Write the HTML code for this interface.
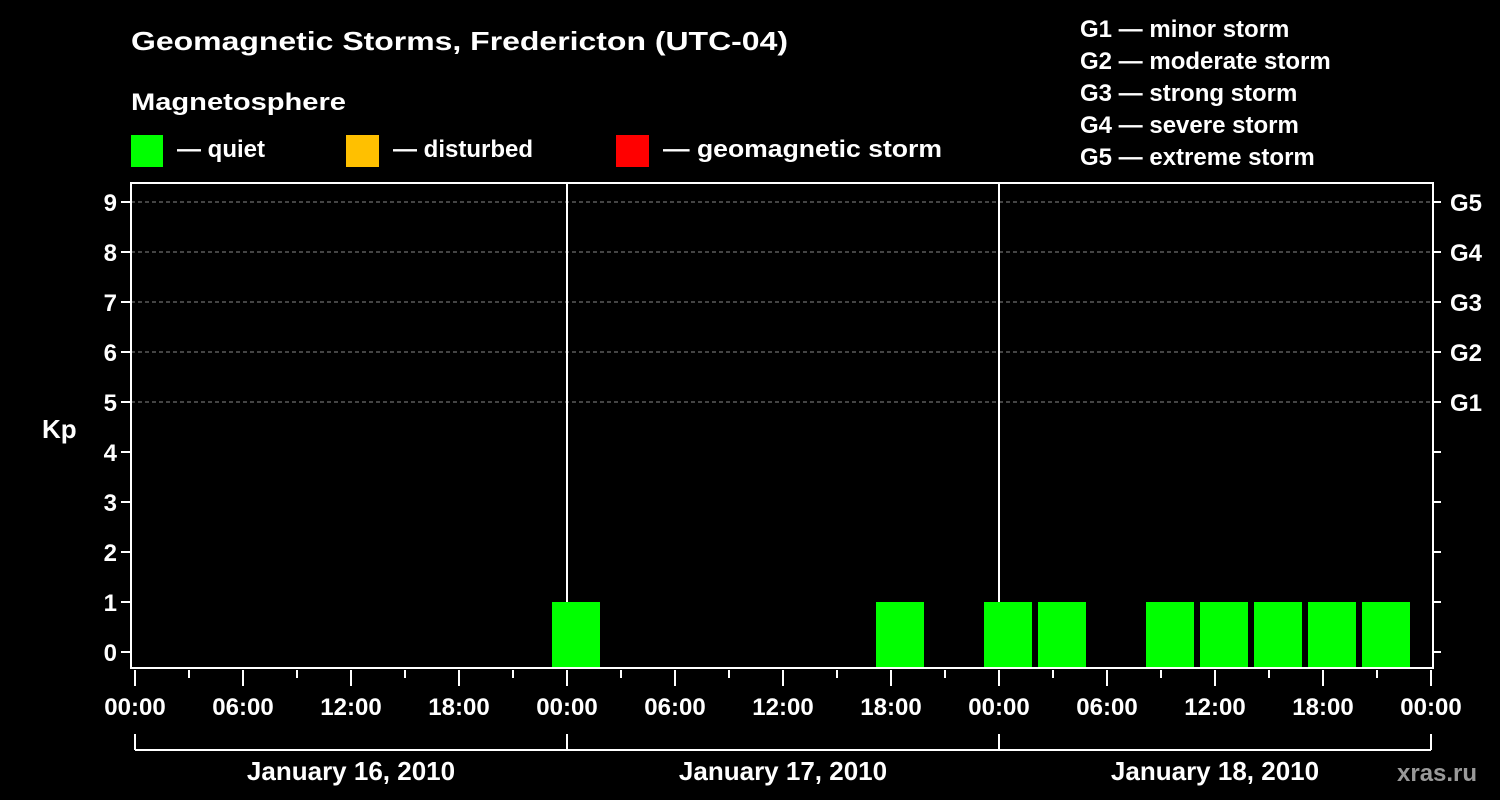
<!DOCTYPE html>
<html><head><meta charset="utf-8"><style>
html,body{margin:0;padding:0;background:#000;}
svg{display:block;font-family:"Liberation Sans",Arial,sans-serif;font-weight:bold;}
</style></head><body>
<svg id="chart" width="1500" height="800" viewBox="0 0 1500 800">
<rect width="1500" height="800" fill="#000"/>
<text x="131" y="50" fill="#fff" font-size="26" textLength="657" lengthAdjust="spacingAndGlyphs">Geomagnetic Storms, Fredericton (UTC-04)</text>
<text x="131" y="110" fill="#fff" font-size="24" textLength="215" lengthAdjust="spacingAndGlyphs">Magnetosphere</text>
<g><rect x="131" y="135" width="32" height="32" fill="#00ff00"/><text x="177" y="157" fill="#fff" font-size="24">— quiet</text></g>
<g><rect x="346" y="135" width="33" height="32" fill="#ffc000"/><text x="393" y="157" fill="#fff" font-size="24">— disturbed</text></g>
<g><rect x="616" y="135" width="33" height="32" fill="#ff0000"/><text x="663" y="157" fill="#fff" font-size="24" textLength="279" lengthAdjust="spacingAndGlyphs">— geomagnetic storm</text></g>
<g fill="#fff" font-size="24">
<text x="1080" y="37">G1 — minor storm</text>
<text x="1080" y="69">G2 — moderate storm</text>
<text x="1080" y="101">G3 — strong storm</text>
<text x="1080" y="133">G4 — severe storm</text>
<text x="1080" y="165">G5 — extreme storm</text>
</g>
<g id="grid"></g>
<g id="bars"></g>
<g id="axes"></g>
<text x="42" y="438" fill="#fff" font-size="26">Kp</text>
<text x="1397" y="781" fill="#999" font-size="24">xras.ru</text>
</svg>
<script>
const binStartHours = [23, 41, 47, 50, 56, 59, 62, 65, 68];
const kpValues = [1, 1, 1, 1, 1, 1, 1, 1, 1];
const yTickLabels = ['0','1','2','3','4','5','6','7','8','9'];
const gLabels = ['G1','G2','G3','G4','G5'];
const xTickLabels = ['00:00','06:00','12:00','18:00','00:00','06:00','12:00','18:00','00:00','06:00','12:00','18:00','00:00'];
const dayLabels = ['January 16, 2010','January 17, 2010','January 18, 2010'];

const NS='http://www.w3.org/2000/svg';
const X0=135, PXH=18, Y0=652, PXK=50, TOP=183, BOT=668, LEFT=131, RIGHT=1433;
const xs=h=>X0+h*PXH, ys=k=>Y0-k*PXK;
function mk(tag,attrs,parent,text){const e=document.createElementNS(NS,tag);for(const k in attrs)e.setAttribute(k,attrs[k]);if(text!==undefined)e.textContent=text;parent.appendChild(e);return e;}
const grid=document.getElementById('grid'),bars=document.getElementById('bars'),axes=document.getElementById('axes');

for(let k=5;k<=9;k++){
  const l=mk('line',{x1:LEFT,x2:RIGHT,y1:ys(k),y2:ys(k),stroke:'#888','stroke-dasharray':'4,3','stroke-width':1},grid);
  
  
}
for(let d=1;d<3;d++){
  const l=mk('line',{x1:xs(d*24),x2:xs(d*24),y1:TOP,y2:BOT,stroke:'#fff','stroke-width':2},grid);
  
  
}
binStartHours.forEach((h,i)=>{
  const v=kpValues[i];
  const col=v>=5?'#ff0000':(v>=4?'#ffc000':'#00ff00');
  const r=mk('rect',{x:xs(h)+3,width:PXH*3-6,y:ys(v),height:BOT-ys(v),fill:col},bars);
  
  
});
const frame=mk('rect',{x:LEFT,y:TOP,width:RIGHT-LEFT,height:BOT-TOP,fill:'none',stroke:'#fff','stroke-width':2},axes);


yTickLabels.forEach((t,k)=>{
  mk('line',{x1:LEFT-10,x2:LEFT,y1:ys(k),y2:ys(k),stroke:'#fff','stroke-width':2},axes);
  mk('line',{x1:RIGHT,x2:RIGHT+8,y1:ys(k),y2:ys(k),stroke:'#fff','stroke-width':2},axes);
  const tx=mk('text',{x:LEFT-14,y:ys(k)+9,fill:'#fff','font-size':24,'text-anchor':'end'},axes,t);
  
  
});
gLabels.forEach((g,i)=>{
  const tx=mk('text',{x:1450,y:ys(i+5)+9,fill:'#fff','font-size':24},axes,g);
  
  
});
for(let h=0;h<=72;h+=3){
  const major=h%6===0;
  mk('line',{x1:xs(h),x2:xs(h),y1:BOT+2,y2:BOT+(major?18:10),stroke:'#fff','stroke-width':2},axes);
}
xTickLabels.forEach((t,i)=>{
  const tx=mk('text',{x:xs(i*6),y:715,fill:'#fff','font-size':24,'text-anchor':'middle'},axes,t);
  
  
});
mk('line',{x1:xs(0),x2:xs(72),y1:750,y2:750,stroke:'#fff','stroke-width':2},axes);
for(let d=0;d<=3;d++) mk('line',{x1:xs(d*24),x2:xs(d*24),y1:734,y2:750,stroke:'#fff','stroke-width':2},axes);
dayLabels.forEach((t,i)=>{
  const tx=mk('text',{x:xs(i*24+12),y:780,fill:'#fff','font-size':26,'text-anchor':'middle'},axes,t);
  
  
});
</script>
</body></html>
